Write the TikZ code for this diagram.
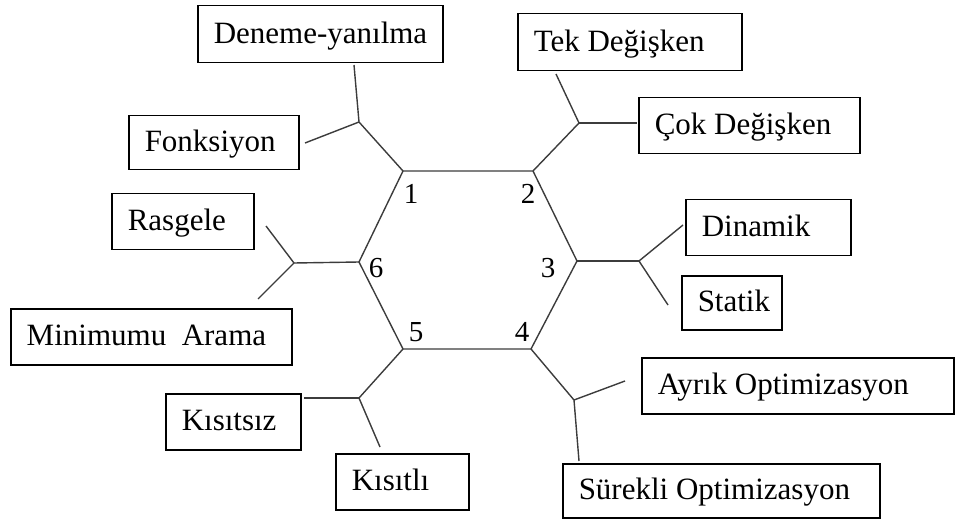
\documentclass[tikz,border=0pt]{standalone}
\usepackage{fontspec}
\setmainfont{Liberation Serif}
\begin{document}
\begin{tikzpicture}[x=1pt,y=-1pt,
  catbox/.style={draw=black,line width=1.5pt,inner xsep=16pt,inner ysep=0pt,
    text height=23pt,text depth=5pt,
    anchor=north west,font=\fontsize{31}{37}\selectfont},
  link/.style={draw={rgb,255:red,60;green,60;blue,60},line width=1.4pt},
  num/.style={font=\fontsize{29}{34}\selectfont,inner sep=0pt}]
\useasboundingbox (0,0) rectangle (955,521);
\newcommand\lbox[2]{\makebox[#1][l]{#2}}

% category boxes
\node[catbox,minimum height=57pt] (den) at (197,5)   {\lbox{213pt}{Deneme-yanılma}};
\node[catbox,minimum height=54pt] (fon) at (128,115) {\lbox{138pt}{Fonksiyon}};
\node[catbox,minimum height=57pt] (tek) at (517,13)  {\lbox{192pt}{Tek Değişken}};
\node[catbox,minimum height=56pt] (cok) at (638,97)  {\lbox{189pt}{Çok Değişken}};
\node[catbox,minimum height=56pt] (din) at (685,199) {\lbox{133pt}{Dinamik}};
\node[catbox,minimum height=54pt] (sta) at (681,275) {\lbox{68pt}{Statik}};
\node[catbox,minimum height=56pt] (ras) at (111,193) {\lbox{110pt}{Rasgele}};
\node[catbox,minimum height=56pt] (min) at (10,308)  {\lbox{249pt}{Minimumu\ \ Arama}};
\node[catbox,minimum height=56pt] (ksz) at (165,393) {\lbox{103pt}{Kısıtsız}};
\node[catbox,minimum height=56pt] (ksl) at (335,453) {\lbox{101pt}{Kısıtlı}};
\node[catbox,minimum height=56pt] (ayr) at (641,357) {\lbox{280pt}{Ayrık Optimizasyon}};
\node[catbox,minimum height=54pt] (sur) at (562,463) {\lbox{285pt}{Sürekli Optimizasyon}};

% hexagon corners
\coordinate (v1) at (403,171);
\coordinate (v2) at (533,171);
\coordinate (v3) at (577,261);
\coordinate (v4) at (531,349);
\coordinate (v5) at (403,349);
\coordinate (v6) at (359,262);
\draw[link] (v1) -- (v2) -- (v3) -- (v4) -- (v5) -- (v6) -- cycle;

% branch points and free ends
\coordinate (b1) at (359,122); \coordinate (e1a) at (354,65);  \coordinate (e1b) at (305,143);
\coordinate (b2) at (579,123); \coordinate (e2a) at (556,74);  \coordinate (e2b) at (637,123);
\coordinate (b3) at (639,261); \coordinate (e3a) at (683,225); \coordinate (e3b) at (668,305);
\coordinate (b4) at (574,400); \coordinate (e4a) at (625,381); \coordinate (e4b) at (579,461);
\coordinate (b5) at (359,398); \coordinate (e5a) at (304,398); \coordinate (e5b) at (380,447);
\coordinate (b6) at (294,263); \coordinate (e6a) at (266,226); \coordinate (e6b) at (258,299);

\foreach \i in {1,...,6}{
  \draw[link] (v\i) -- (b\i);
  \draw[link] (b\i) -- (e\i a);
  \draw[link] (b\i) -- (e\i b);
}

% corner numbers
\node[num] (n1) at (411,194) {1};
\node[num] (n2) at (528,194) {2};
\node[num] (n3) at (548,268) {3};
\node[num] (n4) at (522,332) {4};
\node[num] (n5) at (416,332) {5};
\node[num] (n6) at (376,268) {6};
\end{tikzpicture}
\end{document}
